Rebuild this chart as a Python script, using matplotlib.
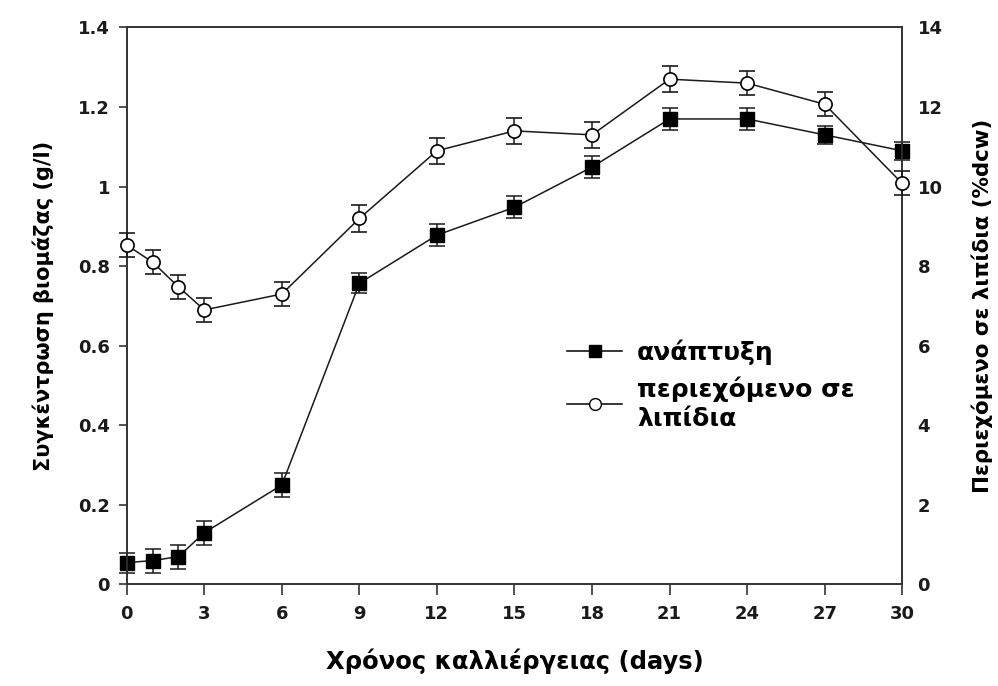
import matplotlib.pyplot as plt
from matplotlib.lines import Line2D

plt.rcParams["font.family"] = ["DejaVu Sans"]
plt.rcParams["font.weight"] = "bold"

# days of culture
days = [0, 1, 2, 3, 6, 9, 12, 15, 18, 21, 24, 27, 30]
# biomass concentration (g/l), left axis
biomass = [0.055, 0.06, 0.07, 0.13, 0.25, 0.757, 0.878, 0.948, 1.049, 1.17, 1.17, 1.13, 1.09]
biomass_err = [0.025, 0.03, 0.03, 0.03, 0.03, 0.025, 0.028, 0.028, 0.028, 0.028, 0.028, 0.022, 0.022]
# lipid content (%dcw), right axis
lipid = [8.53, 8.1, 7.48, 6.9, 7.3, 9.2, 10.9, 11.4, 11.3, 12.7, 12.6, 12.07, 10.08]
lipid_err = [0.3, 0.3, 0.3, 0.3, 0.3, 0.33, 0.33, 0.33, 0.33, 0.33, 0.3, 0.3, 0.3]

x_ticks = [0, 3, 6, 9, 12, 15, 18, 21, 24, 27, 30]
left_ticks = [0, 0.2, 0.4, 0.6, 0.8, 1.0, 1.2, 1.4]
left_labels = ["0", "0.2", "0.4", "0.6", "0.8", "1", "1.2", "1.4"]
right_ticks = [0, 2, 4, 6, 8, 10, 12, 14]

fig = plt.figure(figsize=(9.98, 6.86), dpi=100)
ax = fig.add_axes([0.127, 0.148, 0.777, 0.812])
ax2 = ax.twinx()

lw = 1.1
ax.errorbar(days, biomass, yerr=biomass_err, color="#1a1a1a", marker="s", markersize=10,
            markerfacecolor="black", markeredgecolor="black", linewidth=lw,
            elinewidth=lw, capsize=5.5, capthick=lw, zorder=3, clip_on=False)
ax2.errorbar(days, lipid, yerr=lipid_err, color="#1a1a1a", marker="o", markersize=9.5,
             markerfacecolor="white", markeredgecolor="black", markeredgewidth=1.2,
             linewidth=lw, elinewidth=lw, capsize=5.5, capthick=lw, zorder=3, clip_on=False)

ax.set_xlim(0, 30)
ax.set_ylim(0, 1.4)
ax2.set_ylim(0, 14)
ax.set_xticks(x_ticks)
ax.set_yticks(left_ticks)
ax.set_yticklabels(left_labels)
ax2.set_yticks(right_ticks)

for a in (ax, ax2):
    for s in a.spines.values():
        s.set_linewidth(1.2)
        s.set_color("#333333")
    a.tick_params(labelsize=13, width=1.2, color="#333333", labelcolor="#1a1a1a")
ax.tick_params(axis="x", direction="out", length=8, pad=7)
ax.tick_params(axis="y", direction="out", length=6, pad=6)
ax2.tick_params(axis="y", length=0, pad=11)

ax.set_xlabel("Χρόνος καλλιέργειας (days)", fontsize=17.5, fontweight="bold", labelpad=18)
ax.set_ylabel("Συγκέντρωση βιομάζας (g/l)", fontsize=15, fontweight="bold", labelpad=17)
ax2.set_ylabel("Περιεχόμενο σε λιπίδια (%dcw)", fontsize=15.4, fontweight="bold", labelpad=21)

handles = [
    Line2D([], [], color="black", linewidth=lw, marker="s", markersize=8.5,
           markerfacecolor="black"),
    Line2D([], [], color="black", linewidth=lw, marker="o", markersize=8.5,
           markerfacecolor="white"),
]
leg = ax.legend(handles, ["ανάπτυξη", "περιεχόμενο σε\nλιπίδια"], loc="upper left",
                bbox_to_anchor=(0.568, 0.44), frameon=False, handlelength=2.2,
                handletextpad=0.6, labelspacing=0.45, borderpad=0, borderaxespad=0,
                prop={"size": 18, "weight": "bold"})
for t in leg.get_texts():
    t.set_linespacing(1.3)

fig.savefig("out.png", dpi=100)
